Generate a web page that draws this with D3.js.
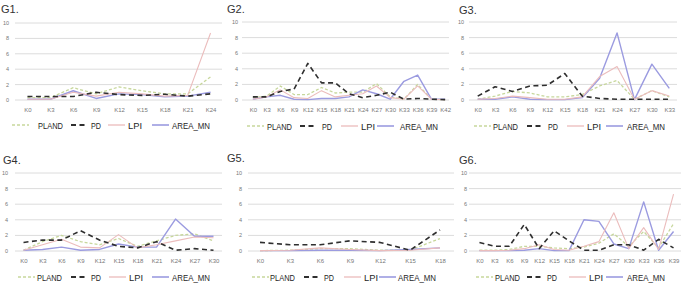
<!DOCTYPE html>
<html><head><meta charset="utf-8">
<script src="https://cdn.jsdelivr.net/npm/d3@7"></script>
<style>body{margin:0;background:#fff}svg{display:block}</style>
</head><body>
<svg id="c" width="681" height="285"></svg>
<script>
// ---------- data ----------
const seriesNames = ["PLAND", "PD", "LPI", "AREA_MN"];
const yTicks = [0, 2, 4, 6, 8, 10];

const g1Cats = ["K0","K3","K6","K9","K12","K15","K18","K21","K24"];
const g1PLAND = [0.3,0.3,1.6,0.8,1.7,1.2,0.8,0.8,3.0];
const g1PD    = [0.45,0.45,0.45,1.0,0.7,0.6,0.75,0.5,0.8];
const g1LPI   = [0.1,0.1,1.0,0.5,1.0,0.8,0.5,0.6,8.7];
const g1AREA  = [0.1,0.1,1.2,0.2,0.8,0.7,0.4,0.5,1.0];

const g2Cats = ["K0","K3","K6","K9","K12","K15","K18","K21","K24","K27","K30","K33","K36","K39","K42"];
const g2PLAND = [0.3,0.5,1.8,0.7,0.7,1.6,0.9,1.0,1.0,2.1,0.4,0.1,2.0,0.1,0.05];
const g2PD    = [0.4,0.4,1.1,1.4,4.7,2.2,2.2,0.8,0.3,0.6,1.0,0.1,0.2,0.1,0.05];
const g2LPI   = [0.1,0.4,1.3,0.3,0.2,1.2,0.4,0.6,0.8,1.8,0.3,0.1,1.8,0.1,0.05];
const g2AREA  = [0.1,0.4,0.6,0.1,0.05,0.2,0.2,0.4,1.3,0.8,0.1,2.4,3.2,0.1,0.1];

const g3Cats = ["K0","K3","K6","K9","K12","K15","K18","K21","K24","K27","K30","K33"];
const g3PLAND = [0.1,0.5,1.1,0.9,0.4,0.4,0.7,1.8,2.5,0.1,1.2,0.4];
const g3PD    = [0.5,1.7,1.1,1.8,1.9,3.4,0.5,0.2,0.1,0.1,0.1,0.1];
const g3LPI   = [0.1,0.2,0.5,0.3,0.1,0.1,0.4,3.0,4.3,0.1,1.2,0.5];
const g3AREA  = [0.1,0.1,0.4,0.1,0.05,0.05,0.3,2.8,8.6,0.05,4.6,1.5];

const g4Cats = ["K0","K3","K6","K9","K12","K15","K18","K21","K24","K27","K30"];
const g4PLAND = [0.1,1.2,2.0,1.2,0.8,1.6,0.6,1.3,2.0,2.2,1.3];
const g4PD    = [1.1,1.4,1.4,2.6,1.4,0.6,0.4,1.2,0.1,0.3,0.1];
const g4LPI   = [0.1,0.8,1.5,0.5,0.4,2.1,0.4,0.8,1.3,1.8,1.7];
const g4AREA  = [0.1,0.2,0.5,0.1,0.2,0.9,0.5,0.5,4.1,1.9,1.9];

const g5Cats = ["K0","K3","K6","K9","K12","K15","K18"];
const g5PLAND = [0.05,0.1,0.3,0.3,0.1,0.1,1.6];
const g5PD    = [1.1,0.8,0.8,1.3,1.1,0.1,2.7];
const g5LPI   = [0.05,0.1,0.4,0.2,0.05,0.1,0.4];
const g5AREA  = [0.05,0.05,0.1,0.1,0.05,0.2,0.4];

const g6Cats = ["K0","K3","K6","K9","K12","K15","K18","K21","K24","K27","K30","K33","K36","K39"];
const g6PLAND = [0.1,0.1,0.2,0.6,0.6,0.4,0.3,0.5,1.0,2.2,0.6,2.5,0.4,3.5];
const g6PD    = [1.1,0.6,0.6,3.4,0.3,2.6,1.3,0.1,0.1,0.8,0.8,0.1,1.5,0.4];
const g6LPI   = [0.05,0.05,0.1,0.3,0.8,0.2,0.1,0.6,1.2,4.9,0.3,3.0,0.2,7.3];
const g6AREA  = [0.05,0.05,0.05,0.1,0.3,0.05,0.05,4.0,3.8,0.9,0.3,6.3,0.1,2.5];

const panelTitles = ["G1.","G2.","G3.","G4.","G5.","G6."];

// ---------- layout / style ----------
const panels = [
  {title:panelTitles[0], cats:g1Cats, s:[g1PLAND,g1PD,g1LPI,g1AREA], tx:1,   ty:13,  x0:16,  x1:222, gx0:15,  gx1:222, ytop:23,  ybot:100, ylab:9,   leg:[12,38,71,91,108,128,152,172], legY:125},
  {title:panelTitles[1], cats:g2Cats, s:[g2PLAND,g2PD,g2LPI,g2AREA], tx:227, ty:13,  x0:246, x1:452, gx0:242, gx1:449, ytop:22,  ybot:100, ylab:238, leg:[247,267,300,322,341,361,377,400], legY:126},
  {title:panelTitles[2], cats:g3Cats, s:[g3PLAND,g3PD,g3LPI,g3AREA], tx:459, ty:14,  x0:469, x1:678, gx0:469, gx1:677, ytop:22,  ybot:100, ylab:464, leg:[474,493,527,548,567,587,606,627], legY:126},
  {title:panelTitles[3], cats:g4Cats, s:[g4PLAND,g4PD,g4LPI,g4AREA], tx:3,   ty:164, x0:14,  x1:223, gx0:15,  gx1:222, ytop:173, ybot:251, ylab:8,   leg:[18,37,71,91,109,129,152,172], legY:277},
  {title:panelTitles[4], cats:g5Cats, s:[g5PLAND,g5PD,g5LPI,g5AREA], tx:227, ty:162, x0:245, x1:455, gx0:248, gx1:454, ytop:173, ybot:251, ylab:242, leg:[252,270,304,324,344,364,379,398], legY:277},
  {title:panelTitles[5], cats:g6Cats, s:[g6PLAND,g6PD,g6LPI,g6AREA], tx:459, ty:164, x0:472, x1:681, gx0:469, gx1:681, ytop:173, ybot:251, ylab:467, leg:[476,495,527,547,569,589,606,627], legY:277}
];
const legendTextWidths = [25, 10, 14, 38];
const styles = [
  {color:"#c7d79c", width:1.3, dash:"3,2"},
  {color:"#2f2f2f", width:1.6, dash:"5,3.5"},
  {color:"#ebbcbc", width:1.1, dash:null},
  {color:"#9b9be0", width:1.4, dash:null}
];
const FONT = "'Liberation Sans', Arial, sans-serif";

const svg = d3.select("#c");

panels.forEach(p => {
  const g = svg.append("g");
  const x = d3.scalePoint().domain(p.cats).range([p.x0, p.x1]).padding(0.5);
  const y = d3.scaleLinear().domain([0, 10]).range([p.ybot, p.ytop]);

  // title
  g.append("text").attr("x", p.tx).attr("y", p.ty).text(p.title)
    .attr("font-family", FONT).attr("font-size", 11).attr("fill", "#333");

  // gridlines
  g.selectAll("line.grid").data(yTicks).enter().append("line")
    .attr("x1", p.gx0).attr("x2", p.gx1)
    .attr("y1", d => y(d)).attr("y2", d => y(d))
    .attr("stroke", "#dcdcdc").attr("stroke-width", 1);

  // y labels
  g.selectAll("text.yl").data(yTicks).enter().append("text")
    .attr("x", p.ylab).attr("y", d => y(d) + 2)
    .attr("text-anchor", "end").text(d => d)
    .attr("font-family", FONT).attr("font-size", 5.5).attr("fill", "#777");

  // x labels via axis
  const ax = g.append("g").attr("transform", `translate(0,${p.ybot})`)
    .call(d3.axisBottom(x).tickSize(0).tickPadding(8));
  ax.select(".domain").remove();
  ax.selectAll("text").attr("font-family", FONT).attr("font-size", 6).attr("fill", "#777");

  // series lines
  const line = d3.line().x((d, i) => x(p.cats[i])).y(d => y(d));
  [0, 3, 2, 1].forEach(k => {
    g.append("path").datum(p.s[k]).attr("d", line)
      .attr("fill", "none").attr("stroke", styles[k].color)
      .attr("stroke-width", styles[k].width)
      .attr("stroke-dasharray", styles[k].dash)
      .attr("stroke-linejoin", "round");
  });

  // legend
  seriesNames.forEach((name, k) => {
    const lx = p.leg[k * 2], tx = p.leg[k * 2 + 1];
    g.append("line").attr("x1", lx).attr("x2", lx + 17)
      .attr("y1", p.legY).attr("y2", p.legY)
      .attr("stroke", styles[k].color).attr("stroke-width", styles[k].width + 0.2)
      .attr("stroke-dasharray", styles[k].dash);
    g.append("text").attr("x", tx).attr("y", p.legY + 3.5).text(name)
      .attr("font-family", FONT).attr("font-size", 9.5).attr("fill", "#262626")
      .attr("textLength", legendTextWidths[k]).attr("lengthAdjust", "spacingAndGlyphs");
  });
});
</script>
</body></html>
